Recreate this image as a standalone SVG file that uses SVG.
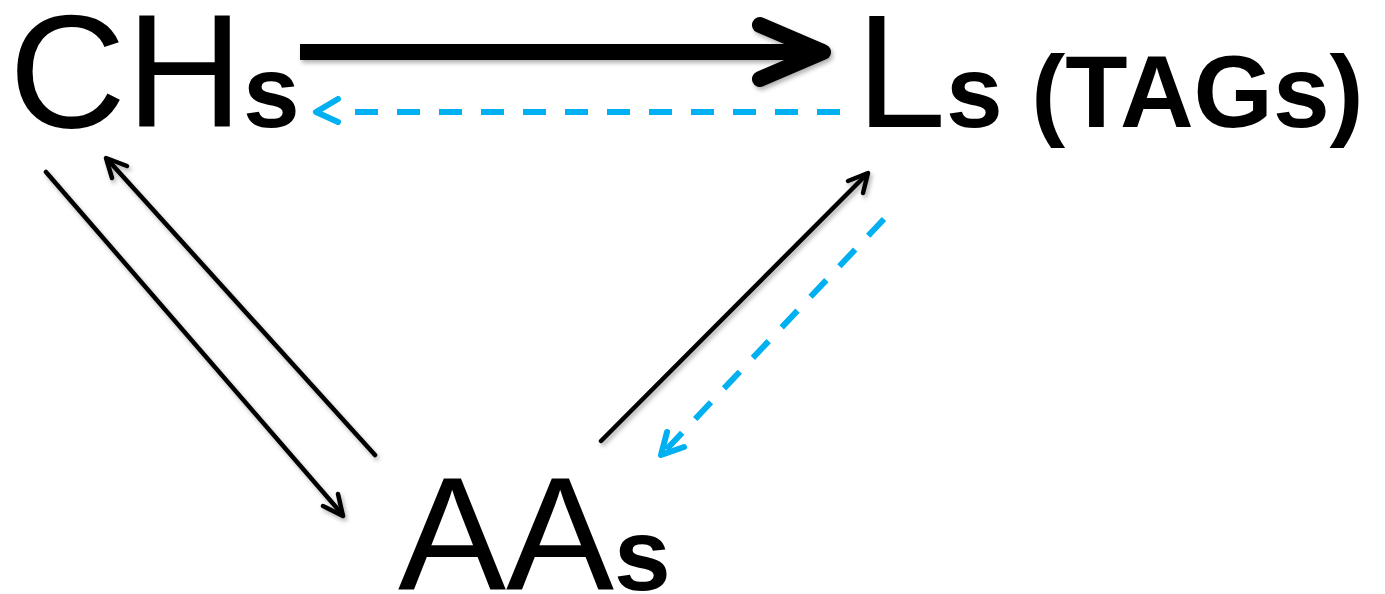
<svg xmlns="http://www.w3.org/2000/svg" width="1385" height="594" viewBox="0 0 1385 594">
<style>
.big{font-family:"Liberation Sans",Arial,sans-serif;font-size:162px;fill:#000}
.sub{font-family:"Liberation Sans",Arial,sans-serif;font-size:102px;font-weight:bold;fill:#000}
.blk{fill:none;stroke:#000;stroke-linecap:round;stroke-linejoin:round}
.thin{stroke-width:4.5}
.thick{stroke-width:16}
.blue{fill:none;stroke:#00B0F0;stroke-width:6;stroke-linejoin:round}
.dash{stroke-dasharray:23 19}
.head{stroke-linecap:round}
</style>
<defs>
<filter id="sh" x="-10%" y="-10%" width="120%" height="120%">
<feDropShadow dx="2" dy="3" stdDeviation="2" flood-color="#000" flood-opacity="0.3"/>
</filter>
</defs>
<g id="node-CHs"><text x="9" y="127" class="big">CH<tspan class="sub">s</tspan></text></g>
<g id="node-Ls"><text x="856" y="127" class="big">L<tspan class="sub">s (TAGs)</tspan></text></g>
<g id="node-AAs"><text x="398" y="590" class="big">AA<tspan class="sub">s</tspan></text></g>
<g id="connectors">
<g filter="url(#sh)">
<path class="blk thick" d="M300,52 L818,52" style="stroke-linecap:butt"/>
<path class="blk thick" d="M760,25 L823,52 L760,79"/>
<path class="blk thin" d="M46,172 L342,514"/>
<path class="blk thin" d="M323,506 L343,516 L338,494"/>
<path class="blk thin" d="M375,455 L108,160"/>
<path class="blk thin" d="M127,166 L106,158 L112,178"/>
<path class="blk thin" d="M601,441 L866,175"/>
<path class="blk thin" d="M848,181 L868,173 L863,193"/>
</g>
<path class="blue dash" d="M840,112 L354,112"/>
<path class="blue head" d="M338,99 L316,112 L338,122"/>
<path class="blue dash" d="M884,219 L664,452"/>
<path class="blue head" d="M667,432 L661,455 L684,447"/>
</g>
</svg>
